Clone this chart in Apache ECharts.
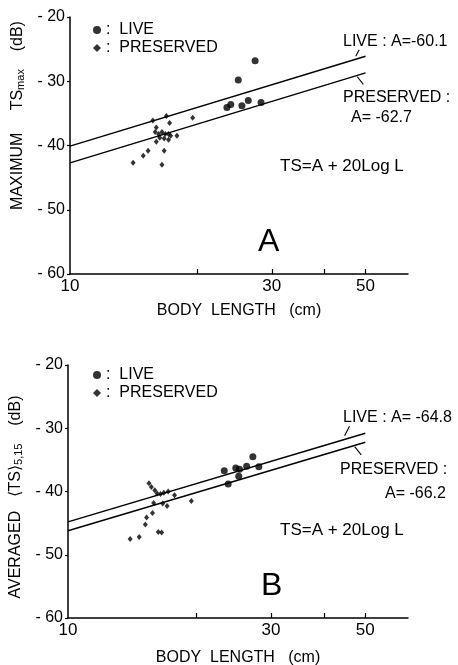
<!DOCTYPE html>
<html><head><meta charset="utf-8">
<script src="https://cdn.jsdelivr.net/npm/echarts@6/dist/echarts.min.js"></script>
<style>html,body{margin:0;padding:0;background:#fff}#c{width:458px;height:665px}</style>
</head><body><div id="c"></div>
<script>
// ---- data (body length cm, TS dB) ----
const seriesNames = ['LIVE', 'PRESERVED'];
const xTickValues = [20, 30, 40, 50];
const xLabelValues = [10, 30, 50];

// Panel A: maximum TS
const liveA = [[23.5,-34.1],[24.0,-33.6],[25.0,-29.8],[25.5,-33.8],[26.4,-33.0],[27.4,-26.8],[28.3,-33.3]];
const preservedA = [[14.1,-42.7],[14.9,-41.6],[15.3,-40.8],[15.7,-36.1],[17.2,-36.5],[16.9,-35.4],[16.0,-37.2],
  [15.9,-37.9],[16.2,-38.2],[16.5,-37.9],[16.8,-38.2],[17.1,-38.2],[17.3,-38.5],[17.9,-38.5],[16.3,-38.8],
  [16.7,-38.9],[16.0,-39.4],[17.1,-39.1],[16.7,-40.8],[16.5,-43.0],[19.5,-35.7]];
const fitLiveA = [[10,-40.1],[50,-26.1]];        // LIVE: A = -60.1
const fitPreservedA = [[10,-42.7],[50,-28.7]];   // PRESERVED: A = -62.7

// Panel B: averaged TS
const liveB = [[23.3,-36.7],[23.8,-38.8],[24.8,-36.3],[25.3,-36.5],[25.2,-37.6],[26.3,-36.0],[27.2,-34.5],[28.1,-36.1]];
const preservedB = [[14.0,-47.5],[14.7,-47.2],[15.2,-45.2],[15.3,-44.1],[15.8,-43.4],[15.9,-41.8],[15.5,-38.7],
  [15.7,-39.3],[16.0,-39.8],[16.2,-40.3],[16.5,-40.4],[16.8,-40.2],[17.2,-40.0],[17.8,-40.6],[16.3,-46.4],
  [16.6,-46.5],[16.7,-41.9],[17.1,-42.3],[19.5,-41.5]];
const fitLiveB = [[10,-44.8],[50,-30.8]];        // LIVE: A = -64.8
const fitPreservedB = [[10,-46.2],[50,-32.2]];   // PRESERVED: A = -66.2

// leader lines for annotations
const leaderLiveA = [[47.4,-26.1],[48.3,-25.1]];
const leaderPresA = [[47.8,-29.3],[49.4,-30.5]];
const leaderLiveB = [[44.7,-31.2],[45.9,-29.7]];
const leaderPresB = [[47.2,-32.9],[48.9,-34.2]];

const F = '"Liberation Sans", Arial, sans-serif';
const K = '#000';

function xAxis(gi, gap) {
  return {
    type: 'log', logBase: 10, gridIndex: gi, min: 10, max: 63,
    axisLine: {show: true, onZero: false, lineStyle: {color: K, width: 1.5}},
    axisTick: {show: true, inside: true, length: 5, customValues: xTickValues, lineStyle: {color: K, width: 1.2}},
    axisLabel: {customValues: xLabelValues, color: K, fontSize: 17, margin: 4, fontFamily: F},
    splitLine: {show: false}, minorTick: {show: false}, minorSplitLine: {show: false},
    name: 'BODY  LENGTH   (cm)', nameLocation: 'middle', nameGap: gap,
    nameTextStyle: {color: K, fontSize: 16, fontFamily: F}
  };
}
function yAxis(gi, name, gap, pad) {
  return {
    type: 'value', gridIndex: gi, min: -60, max: -20, interval: 10,
    axisLine: {show: true, onZero: false, lineStyle: {color: K, width: 1.5}},
    axisTick: {show: true, length: 3, lineStyle: {color: K, width: 1.2}},
    axisLabel: {color: K, fontSize: 16, margin: 5, fontFamily: F, formatter: v => '- ' + Math.abs(v)},
    splitLine: {show: false},
    name: name, nameLocation: 'middle', nameGap: gap, nameRotate: 90,
    nameTextStyle: {color: K, fontSize: 16, fontFamily: F, padding: pad,
      rich: {s: {fontSize: 11, fontFamily: F, color: K, verticalAlign: 'bottom', padding: [6, 0, 0, 0]}}}
  };
}
function pts(name, data, xi, sym, size) {
  return {type: 'scatter', name, xAxisIndex: xi, yAxisIndex: xi, data, symbol: sym, symbolSize: size,
    itemStyle: {color: K}, z: 3};
}
function fit(data, leader, xi) {
  return {type: 'line', name: 'fit', xAxisIndex: xi, yAxisIndex: xi, data, symbol: 'none', silent: true,
    lineStyle: {color: K, width: 1.5}, z: 2,
    markLine: {silent: true, symbol: 'none', label: {show: false}, lineStyle: {color: K, width: 1.1, type: 'solid'},
      data: [[{coord: leader[0]}, {coord: leader[1]}]]}};
}
function legend(top) {
  return {top, left: 88, orient: 'vertical', itemGap: 2, itemWidth: 8, itemHeight: 8, selectedMode: false,
    data: [{name: seriesNames[0], icon: 'circle'}, {name: seriesNames[1], icon: 'diamond'}],
    formatter: n => ':  ' + n, textStyle: {color: K, fontSize: 16, lineHeight: 16, fontFamily: F}};
}
function txt(text, x, y, size) {
  return {type: 'text', x, y, style: {text, fill: K, font: (size || 16) + 'px ' + F, verticalAlign: 'middle'}};
}

const chart = echarts.init(document.getElementById('c'), null, {renderer: 'canvas'});
chart.setOption({
  backgroundColor: '#fff',
  animation: false,
  grid: [
    {left: 70, top: 17, width: 338, height: 257, outerBoundsMode: 'none'},
    {left: 68, top: 365, width: 340, height: 253, outerBoundsMode: 'none'}
  ],
  xAxis: [xAxis(0, 29), xAxis(1, 32)],
  yAxis: [yAxis(0, 'MAXIMUM     TS{s|max}    (dB)', 44, [0, 0, 0, 60]), yAxis(1, 'AVERAGED   ⟨TS⟩{s|5,15}    (dB)', 42, [0, 11, 0, 0])],
  legend: [legend(17), legend(362)],
  series: [
    pts(seriesNames[0], liveA, 0, 'circle', 7),
    pts(seriesNames[1], preservedA, 0, 'diamond', [5, 6]),
    fit(fitLiveA, leaderLiveA, 0),
    fit(fitPreservedA, leaderPresA, 0),
    pts(seriesNames[0], liveB, 1, 'circle', 7),
    pts(seriesNames[1], preservedB, 1, 'diamond', [5, 6]),
    fit(fitLiveB, leaderLiveB, 1),
    fit(fitPreservedB, leaderPresB, 1)
  ],
  graphic: [
    txt('LIVE : A=-60.1', 343, 42),
    txt('PRESERVED :', 343, 98),
    txt('A= -62.7', 351, 118),
    txt('TS=A + 20Log L', 280, 166, 17),
    txt('A', 258, 242, 32),
    txt('LIVE : A= -64.8', 343, 418),
    txt('PRESERVED :', 340, 470),
    txt('A= -66.2', 385, 494),
    txt('TS=A + 20Log L', 280, 530, 17),
    txt('B', 261, 586, 32)
  ]
});
</script></body></html>
